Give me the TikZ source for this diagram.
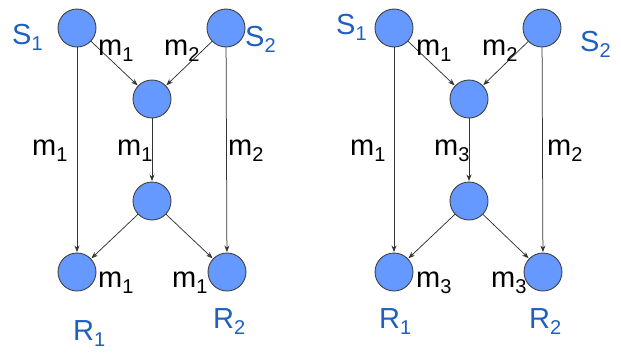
\documentclass[tikz,border=0pt]{standalone}
\usepackage{fontspec}
\setmainfont{Liberation Sans}
\usetikzlibrary{arrows.meta}
\definecolor{nodefill}{HTML}{6699FF}
\definecolor{nodeline}{HTML}{404040}
\definecolor{lblblue}{HTML}{1F5FBF}
\newcommand\subs[1]{\raisebox{-6.5pt}{\fontsize{20}{20}\selectfont #1}}
\tikzset{
  host/.style={circle,draw=nodeline,line width=0.9pt,fill=nodefill,minimum size=38pt,inner sep=0pt},
  link/.style={draw=black!80,line width=0.75pt,-{Stealth[length=6.5pt,width=5pt]},shorten >=0.5pt},
  mlbl/.style={anchor=base west,inner sep=0pt,font=\fontsize{29}{29}\selectfont,text=black},
  nlbl/.style={anchor=base west,inner sep=0pt,font=\fontsize{29}{29}\selectfont,text=lblblue}
}
\begin{document}
\begin{tikzpicture}[x=1pt,y=-1pt]
\useasboundingbox (0,0) rectangle (621,359);
% left diagram
\node[host] (s1) at (77,28) {};
\node[host] (s2) at (226,28) {};
\node[host] (a) at (152,99) {};
\node[host] (b) at (152,201) {};
\node[host] (r1) at (77,272) {};
\node[host] (r2) at (227,272) {};
\draw[link] (s1) -- (a);
\draw[link] (s2) -- (a);
\draw[link] (a) -- (b);
\draw[link] (b) -- (r1);
\draw[link] (b) -- (r2);
\draw[link] (s1) -- (r1);
\draw[link] (s2) -- (r2);
\node[nlbl] (ls1) at (12,44) {S\subs{1}};
\node[nlbl] (ls2) at (245,46) {S\subs{2}};
\node[mlbl] (l1) at (98,55) {m\subs{1}};
\node[mlbl] (l2) at (164,55) {m\subs{2}};
\node[mlbl] (l3) at (32,155) {m\subs{1}};
\node[mlbl] (l4) at (117,155) {m\subs{1}};
\node[mlbl] (l5) at (228,155) {m\subs{2}};
\node[mlbl] (l6) at (98,287) {m\subs{1}};
\node[mlbl] (l7) at (172,287) {m\subs{1}};
\node[nlbl] (lr1) at (73,340) {R\subs{1}};
\node[nlbl] (lr2) at (213,328) {R\subs{2}};
% right diagram
\node[host] (t1) at (394,28) {};
\node[host] (t2) at (542,28) {};
\node[host] (c) at (469,99) {};
\node[host] (d) at (469,201) {};
\node[host] (q1) at (394,272) {};
\node[host] (q2) at (543,272) {};
\draw[link] (t1) -- (c);
\draw[link] (t2) -- (c);
\draw[link] (c) -- (d);
\draw[link] (d) -- (q1);
\draw[link] (d) -- (q2);
\draw[link] (t1) -- (q1);
\draw[link] (t2) -- (q2);
\node[nlbl] (lt1) at (336,34) {S\subs{1}};
\node[nlbl] (lt2) at (580,51) {S\subs{2}};
\node[mlbl] (k1) at (416,55) {m\subs{1}};
\node[mlbl] (k2) at (482,55) {m\subs{2}};
\node[mlbl] (k3) at (350,155) {m\subs{1}};
\node[mlbl] (k4) at (434,155) {m\subs{3}};
\node[mlbl] (k5) at (547,155) {m\subs{2}};
\node[mlbl] (k6) at (416,287) {m\subs{3}};
\node[mlbl] (k7) at (491,287) {m\subs{3}};
\node[nlbl] (lq1) at (379,328) {R\subs{1}};
\node[nlbl] (lq2) at (529,328) {R\subs{2}};
\end{tikzpicture}
\end{document}
